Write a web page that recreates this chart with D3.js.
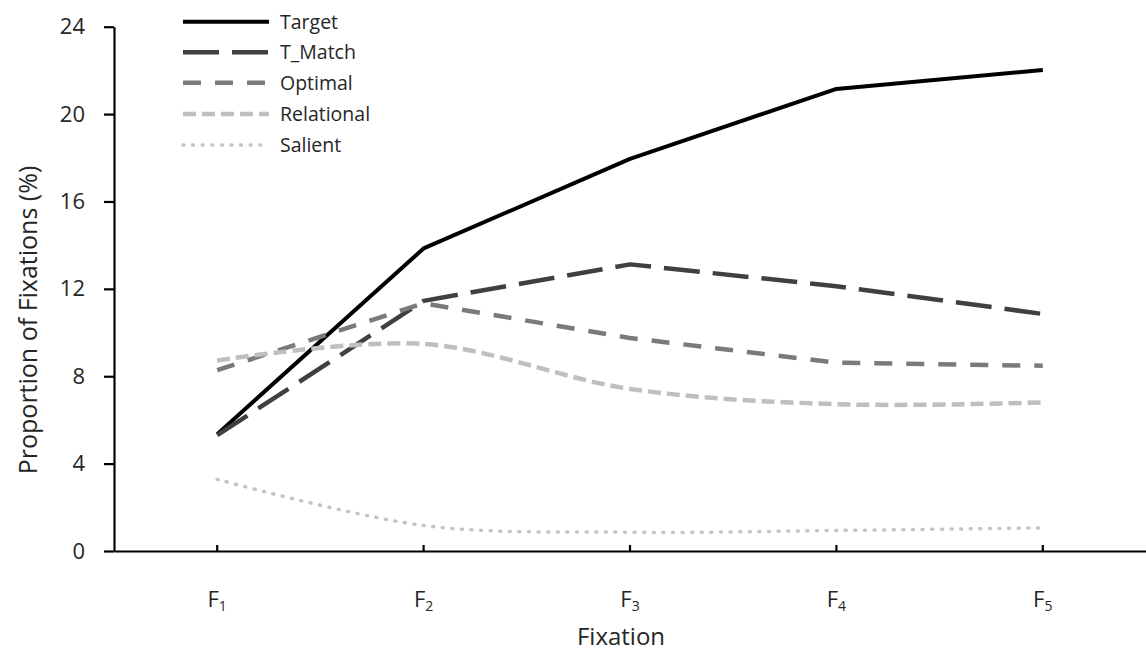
<!DOCTYPE html>
<html>
<head>
<meta charset="utf-8">
<script src="https://cdn.jsdelivr.net/npm/d3@7"></script>
<style>
  html, body { margin: 0; padding: 0; background: #fff; }
  svg { display: block; }
  text { font-family: "Open Sans", "Noto Sans", sans-serif; fill: #262626; }
</style>
</head>
<body>
<svg id="chart" width="1146" height="653"></svg>
<script>
// ---- data ----
const categories = ["1", "2", "3", "4", "5"];
const seriesNames = ["Target", "T_Match", "Optimal", "Relational", "Salient"];
const target     = [5.35, 13.85, 17.95, 21.15, 22.02];
const tMatch     = [5.3, 11.45, 13.12, 12.12, 10.85];
const optimal    = [8.28, 11.34, 9.75, 8.62, 8.48];
const relational = [8.72, 9.48, 7.42, 6.72, 6.8];
const salient    = [3.28, 1.17, 0.86, 0.94, 1.06];
const yTicks     = [0, 4, 8, 12, 16, 20, 24];
const xTitle = "Fixation";
const yTitle = "Proportion of Fixations (%)";

const seriesValues = [target, tMatch, optimal, relational, salient];
const styles = [
  { color: "#000000", width: 4,   dash: null,       curve: d3.curveLinear },
  { color: "#404040", width: 4.5, dash: "36 13",    curve: d3.curveLinear },
  { color: "#7a7a7a", width: 4.5, dash: "18 14",    curve: d3.curveLinear },
  { color: "#bfbfbf", width: 4.5, dash: "13 6",     curve: d3.curveCatmullRom.alpha(0.5) },
  { color: "#c4c4c4", width: 3.5, dash: "1 8.6",    curve: d3.curveCatmullRom.alpha(0.5), cap: "round" }
];

const svg = d3.select("#chart");
const x = d3.scaleBand().domain(categories).range([114, 1146]);
const y = d3.scaleLinear().domain([0, 24]).range([551, 26.7]);
const cx = d => x(d) + x.bandwidth() / 2;

// y axis
const yAxis = svg.append("g")
  .attr("transform", "translate(114,0)")
  .call(d3.axisLeft(y).tickValues(yTicks).tickSize(10).tickSizeOuter(0).tickPadding(19).tickFormat(d3.format("d")));
yAxis.select(".domain").attr("stroke", "#000").attr("stroke-width", 2.2);
yAxis.selectAll(".tick line").attr("stroke", "#000").attr("stroke-width", 2.2);
yAxis.selectAll(".tick text").style("font-size", "22px").attr("fill", "#262626");

// x axis (ticks point inward)
const xAxis = svg.append("g")
  .attr("transform", "translate(0,551)")
  .call(d3.axisBottom(x).tickSize(-6).tickSizeOuter(0).tickFormat(""));
xAxis.select(".domain").attr("stroke", "#000").attr("stroke-width", 2.2);
xAxis.selectAll(".tick line").attr("stroke", "#000").attr("stroke-width", 2.2);
xAxis.selectAll(".tick text").remove();
categories.forEach(c => {
  const t = svg.append("text")
    .attr("x", cx(c))
    .attr("y", 607)
    .attr("text-anchor", "middle")
    .style("font-size", "22px");
  t.append("tspan").text("F");
  t.append("tspan").text(c).attr("dy", 4).style("font-size", "14px");
});

// titles
svg.append("text")
  .attr("x", 621).attr("y", 645)
  .attr("text-anchor", "middle")
  .style("font-size", "24px")
  .text(xTitle);
svg.append("text")
  .attr("transform", "translate(37,320) rotate(-90)")
  .attr("text-anchor", "middle")
  .style("font-size", "25px")
  .text(yTitle);

// lines
const line = d3.line().x((d, i) => cx(categories[i])).y(d => y(d));
seriesValues.forEach((vals, k) => {
  const s = styles[k];
  svg.append("path")
    .datum(vals)
    .attr("fill", "none")
    .attr("stroke", s.color)
    .attr("stroke-width", s.width)
    .attr("stroke-dasharray", s.dash)
    .attr("stroke-linecap", s.cap || "butt")
    .attr("stroke-linejoin", "round")
    .attr("d", line.curve(s.curve)(vals));
});

// legend
const legendRowY = [21.7, 52.3, 82.7, 114, 145];
seriesNames.forEach((name, k) => {
  const s = styles[k];
  const g = svg.append("g").attr("transform", `translate(183,${legendRowY[k]})`);
  g.append("line")
    .attr("x1", 0).attr("x2", 86).attr("y1", 0).attr("y2", 0)
    .attr("stroke", s.color)
    .attr("stroke-width", s.width)
    .attr("stroke-dasharray", s.dash)
    .attr("stroke-linecap", s.cap || "butt");
  g.append("text")
    .attr("x", 97).attr("y", 7)
    .style("font-size", "19.5px")
    .text(name);
});
</script>
</body>
</html>
